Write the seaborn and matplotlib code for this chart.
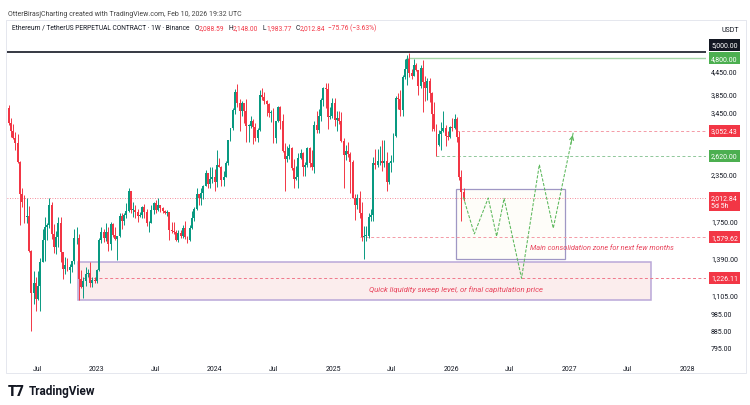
import numpy as np
import pandas as pd
import matplotlib
matplotlib.use("Agg")
import matplotlib.pyplot as plt
import matplotlib.dates as mdates
import matplotlib.transforms as mtransforms
from matplotlib.patches import Rectangle
from matplotlib.ticker import NullLocator, FixedLocator, FixedFormatter
import seaborn as sns

# ---------------- data ----------------
first_week = "2022-04-04"
opens = [
    3520, 3210, 3060, 2920, 2830, 2520, 2060, 1970, 1790, 1800, 1450, 1120, 1190, 1075, 1165, 1355, 1550, 1685, 1700, 1935,
    1610, 1490, 1580, 1720, 1440, 1295, 1330, 1290, 1310, 1365, 1570, 1570, 1220, 1160, 1200, 1260, 1265, 1185, 1210,
    1200, 1290, 1550, 1630, 1570, 1630, 1515, 1710, 1600, 1565, 1590, 1800, 1750, 1810, 1860, 2100, 1870, 1870, 1850, 1800,
    1810, 1910, 1850, 1720, 1720, 1870, 1950, 1870, 1930, 1890, 1860, 1830, 1850, 1650, 1640, 1630, 1550, 1620, 1590, 1670,
    1580, 1550, 1670, 1780, 1880, 2060, 2010, 2080, 2170, 2350, 2200, 2270,
    2290, 2220, 2470, 2450, 2260, 2290, 2500, 2880, 3110, 3490, 3900, 3640, 3450, 3640, 3450, 3150, 3150, 3260, 3140, 2930,
    3070, 3830, 3780, 3680, 3620, 3420, 3430, 2930, 3250, 3540, 3250, 2690, 2560, 2610, 2750, 2430, 2270, 2300, 2580, 2660,
    2440, 2470, 2750, 2500, 2450, 3180, 3080, 3360, 3700, 3990, 3960, 3330, 3360,
    3630, 3270, 3310, 3250, 2870, 2630, 2690, 2650, 2520, 2020, 1930, 2010, 1830, 1580, 1590, 1590, 1790, 1810, 2510, 2480,
    2530, 2530, 2510, 2540, 2230, 2500, 2540, 2970, 3760, 3720, 3490, 4260, 4480, 4780, 4390, 4310, 4610, 4450, 4030, 4510,
    4150, 3990, 4160, 3880, 3400, 3090, 2800, 3000, 3060, 3110, 2970, 2950,
    3140, 3120, 3300, 2950, 2300, 2088.59,
]
highs = [
    3580, 3310, 3190, 3030, 3000, 2530, 2150, 2050, 2010, 1920, 1460, 1280, 1230, 1280, 1390, 1660, 1790, 1720, 2020, 1960,
    1710, 1640, 1790, 1790, 1440, 1400, 1390, 1340, 1340, 1660, 1680, 1610, 1290, 1230, 1310, 1300, 1350, 1230, 1230,
    1300, 1570, 1680, 1660, 1720, 1680, 1740, 1720, 1680, 1580, 1840, 1830, 1830, 1950, 2140, 2110, 1960, 1930, 1880, 1850,
    1920, 1940, 1880, 1750, 1930, 1960, 1990, 2020, 1930, 1900, 1870, 1870, 1850, 1740, 1740, 1650, 1650, 1650, 1700, 1750,
    1590, 1700, 1860, 1910, 2140, 2060, 2140, 2180, 2400, 2350, 2450, 2440,
    2420, 2720, 2590, 2460, 2390, 2540, 2890, 3120, 3520, 3970, 4090, 3730, 3680, 3640, 3730, 3200, 3360, 3290, 3220, 3120,
    3940, 3980, 3890, 3710, 3630, 3490, 3520, 3260, 3560, 3560, 3400, 2840, 2780, 2820, 2760, 2560, 2460, 2670, 2730, 2680,
    2520, 2760, 2770, 2720, 3250, 3450, 3500, 3740, 4010, 4110, 4110, 3550, 3740,
    3750, 3460, 3450, 3430, 2930, 2800, 2850, 2680, 2550, 2060, 2070, 2100, 1960, 1690, 1690, 1830, 1880, 2600, 2740, 2730,
    2790, 2880, 2880, 2680, 2520, 2640, 3020, 3800, 3860, 3940, 4330, 4790, 4890, 4960, 4480, 4770, 4650, 4460, 4590, 4750,
    4300, 4250, 4250, 3900, 3660, 3200, 3070, 3240, 3450, 3180, 3060, 3150,
    3310, 3400, 3330, 3050, 2400, 2148.00,
]
lows = [
    3170, 2950, 2900, 2710, 2500, 1700, 1910, 1720, 1730, 1440, 880, 1040, 1000, 1070, 1000, 1350, 1360, 1550, 1670, 1560,
    1430, 1420, 1490, 1350, 1220, 1260, 1280, 1190, 1270, 1340, 1510, 1070, 1150, 1080, 1170, 1230, 1160, 1160, 1190,
    1190, 1280, 1520, 1530, 1540, 1450, 1460, 1580, 1550, 1370, 1580, 1660, 1700, 1780, 1850, 1840, 1790, 1780, 1740, 1790,
    1780, 1780, 1690, 1630, 1720, 1820, 1830, 1860, 1850, 1830, 1820, 1800, 1550, 1620, 1610, 1540, 1530, 1570, 1570, 1560,
    1520, 1540, 1660, 1750, 1870, 1930, 1930, 2000, 2170, 2140, 2150, 2210,
    2110, 2160, 2440, 2170, 2170, 2290, 2480, 2870, 3080, 3400, 3550, 3060, 3360, 3220, 2860, 2860, 3110, 2810, 2870, 2860,
    3050, 3700, 3620, 3360, 3340, 3240, 2830, 2830, 3230, 3090, 2680, 2110, 2520, 2570, 2400, 2150, 2260, 2150, 2560, 2310,
    2310, 2440, 2440, 2400, 2360, 3020, 3010, 3260, 3560, 3520, 3100, 3300, 3320,
    3160, 3050, 3200, 2850, 2150, 2550, 2600, 2080, 2010, 1760, 1880, 1780, 1540, 1380, 1540, 1570, 1750, 1750, 2420, 2440,
    2480, 2380, 2440, 2110, 2200, 2370, 2520, 2940, 3500, 3350, 3360, 4220, 4060, 4270, 4210, 4290, 4440, 3830, 4000, 3440,
    3680, 3700, 3650, 3060, 3050, 2620, 2780, 2720, 3030, 2780, 2890, 2930,
    3060, 3100, 2850, 2250, 1750, 1983.77,
]
closes = [
    3210, 3060, 2920, 2830, 2520, 2060, 1970, 1790, 1800, 1450, 1120, 1190, 1075, 1165, 1355, 1550, 1685, 1700, 1935, 1610,
    1490, 1580, 1720, 1440, 1295, 1330, 1290, 1310, 1365, 1570, 1570, 1220, 1160, 1200, 1260, 1265, 1185, 1210, 1200,
    1290, 1550, 1630, 1570, 1630, 1515, 1710, 1600, 1565, 1590, 1800, 1750, 1810, 1860, 2100, 1870, 1870, 1850, 1800, 1810,
    1910, 1850, 1720, 1720, 1870, 1950, 1870, 1930, 1890, 1860, 1830, 1850, 1650, 1640, 1630, 1550, 1620, 1590, 1670, 1580,
    1550, 1670, 1780, 1880, 2060, 2010, 2080, 2170, 2350, 2200, 2270, 2290,
    2220, 2470, 2450, 2260, 2290, 2500, 2880, 3110, 3490, 3900, 3640, 3450, 3640, 3450, 3150, 3150, 3260, 3140, 2930, 3070,
    3830, 3780, 3680, 3620, 3420, 3430, 2930, 3250, 3540, 3250, 2690, 2560, 2610, 2750, 2430, 2270, 2300, 2580, 2660, 2440,
    2470, 2750, 2500, 2450, 3180, 3080, 3360, 3700, 3990, 3960, 3330, 3360, 3630,
    3270, 3310, 3250, 2870, 2630, 2690, 2650, 2520, 2020, 1930, 2010, 1830, 1580, 1590, 1590, 1790, 1810, 2510, 2480, 2530,
    2530, 2510, 2540, 2230, 2500, 2540, 2970, 3760, 3720, 3490, 4260, 4480, 4780, 4390, 4310, 4610, 4450, 4030, 4510, 4150,
    3990, 4160, 3880, 3400, 3090, 2800, 3000, 3060, 3110, 2970, 2950, 3140,
    3120, 3300, 2950, 2300, 2090, 2012.84,
]

# projection path (green dashed zig-zag)
proj_dates = ["2026-02-08", "2026-03-14", "2026-04-26", "2026-05-22", "2026-06-14",
              "2026-08-07", "2026-10-01", "2026-11-13", "2027-01-14"]
proj_prices = [2025, 1612, 2015, 1588, 2010, 1224, 2479, 1670, 3031]

# zones
consol_dates = ["2026-01-16", "2026-12-19"]
consol_prices = [1380, 2131]
sweep_dates = ["2022-11-04", "2027-09-10"]
sweep_prices = [1071, 1357]

# horizontal levels
level_prices = [5000.00, 4800.00, 3052.43, 2620.00, 2012.84, 1579.62, 1226.11]
level_starts = [None, "2025-08-15", "2026-01-16", "2025-11-15", None, "2025-03-25", "2022-11-20"]

axis_ticks = [795, 885, 985, 1105, 1390, 1750, 2350, 3450, 3850, 4450]
x_tick_dates = ["2022-07-01", "2023-01-01", "2023-07-01", "2024-01-01", "2024-07-01", "2025-01-01",
                "2025-07-01", "2026-01-01", "2026-07-01", "2027-01-01", "2027-07-01", "2028-01-01"]
x_tick_labels = ["Jul", "2023", "Jul", "2024", "Jul", "2025", "Jul", "2026", "Jul", "2027", "Jul", "2028"]

# ---------------- style ----------------
sns.set_theme(style="white")
plt.rcParams["font.family"] = ["Roboto", "DejaVu Sans"]

UP = "#089981"
DOWN = "#f23645"
TXT = "#131722"

W, H = 750, 406
fig = plt.figure(figsize=(7.5, 4.06), dpi=100)
fig.patch.set_facecolor("white")
ax_l, ax_r, ax_t, ax_b = 7, 706, 38, 362
ax = fig.add_axes([ax_l / W, 1 - ax_b / H, (ax_r - ax_l) / W, (ax_b - ax_t) / H])
ax.set_facecolor("white")

dates = pd.date_range(first_week, periods=len(opens), freq="7D")
o = np.array(opens, float); h = np.array(highs, float)
l = np.array(lows, float); c = np.array(closes, float)
cols = np.where(c >= o, UP, DOWN)

ax.set_yscale("log")

# zones (behind candles)
sd = mdates.date2num(pd.to_datetime(sweep_dates))
ax.add_patch(Rectangle((sd[0], sweep_prices[0]), sd[1] - sd[0], sweep_prices[1] - sweep_prices[0],
                       facecolor="#fbeded", edgecolor="#b9a7d8", lw=1.1, zorder=1))
cd = mdates.date2num(pd.to_datetime(consol_dates))
ax.add_patch(Rectangle((cd[0], consol_prices[0]), cd[1] - cd[0], consol_prices[1] - consol_prices[0],
                       facecolor="#fefdf9", edgecolor="#9f97c4", lw=0.9, zorder=1))

dn = mdates.date2num(dates)
ax.vlines(dn, l, h, colors=cols, lw=0.7, zorder=3)
body_lo = np.minimum(o, c)
body_h = np.maximum(np.abs(c - o), body_lo * 0.004)
ax.bar(dn, body_h, bottom=body_lo, width=6.0, color=cols, edgecolor="none", zorder=4)

xmin = mdates.date2num(pd.Timestamp("2023-01-01")) + (ax_l - 96.6) / 0.3234
xmax = mdates.date2num(pd.Timestamp("2023-01-01")) + (ax_r - 96.6) / 0.3234
ax.set_xlim(xmin, xmax)
ax.set_ylim(732, 5478)

# levels
level_styles = [
    dict(color="#131722", lw=1.2, ls="-"),
    dict(color="#a5d6a7", lw=1.0, ls="-"),
    dict(color="#f49aa6", lw=0.7, ls=(0, (3, 2.5))),
    dict(color="#8fc79a", lw=0.7, ls=(0, (3, 2.5))),
    dict(color="#f26a7b", lw=0.6, ls=(0, (1, 2))),
    dict(color="#f49aa6", lw=0.7, ls=(0, (3, 2.5))),
    dict(color="#f0788a", lw=0.7, ls=(0, (3, 2.5))),
]
for p, s, st in zip(level_prices, level_starts, level_styles):
    x0 = xmin if s is None else mdates.date2num(pd.Timestamp(s))
    ax.hlines(p, x0, xmax, zorder=2, **st)

# projection zig-zag
pdates = pd.to_datetime(proj_dates)
proj_df = pd.DataFrame({"date": pdates, "price": proj_prices})
sns.lineplot(data=proj_df, x="date", y="price", ax=ax, sort=False, estimator=None,
             color="#5cb85c", lw=0.75, linestyle=(0, (3, 1.5)), zorder=5)
pn = mdates.date2num(pdates)
tail_x = pn[-2] + 0.85 * (pn[-1] - pn[-2])
tail_y = np.exp(np.log(proj_prices[-2]) + 0.85 * (np.log(proj_prices[-1]) - np.log(proj_prices[-2])))
ax.annotate("", xy=(pn[-1], proj_prices[-1]), xytext=(tail_x, tail_y),
            arrowprops=dict(arrowstyle="->", color="#5cb85c", lw=0.8, mutation_scale=7), zorder=6)

# annotation texts
ANN = "#e8425a"
ax.text(mdates.date2num(pd.Timestamp("2026-09-02")), 1486, "Main consolidation zone for next few months",
        fontsize=5.3, style="italic", color=ANN, ha="left", va="center", zorder=6)
ax.text(mdates.date2num(pd.Timestamp("2026-01-15")), 1150,
        "Quick liquidity sweep level, or final capitulation price",
        fontsize=5.6, style="italic", color=ANN, ha="center", va="center", zorder=6)

# axes
for sp in ax.spines.values():
    sp.set_visible(False)
ax.yaxis.tick_right()
ax.yaxis.set_major_locator(FixedLocator(axis_ticks))
ax.yaxis.set_major_formatter(FixedFormatter([f"{v:,.2f}" for v in axis_ticks]))
ax.yaxis.set_minor_locator(NullLocator())
ax.tick_params(axis="y", length=0, pad=3.6, labelsize=5, labelcolor=TXT)
xt = mdates.date2num(pd.to_datetime(x_tick_dates))
ax.set_xticks(xt)
ax.set_xticklabels(x_tick_labels)
ax.xaxis.set_minor_locator(NullLocator())
ax.tick_params(axis="x", length=0, pad=3, labelsize=5, labelcolor=TXT)
ax.grid(False)
ax.set_xlabel("")
ax.set_ylabel("")

# price-scale badges
blend = mtransforms.blended_transform_factory(ax.transAxes, ax.transData)
xf = (711 - ax_l) / (ax_r - ax_l)
def frac_y(px):
    return (ax_b - px) / (ax_b - ax_t)
badges = [
    ("5,000.00", "#131722", frac_y(45.7), True),
    ("4,800.00", "#4caf50", 4800.00, False),
    ("3,052.43", DOWN, 3052.43, False),
    ("2,620.00", "#4caf50", 2620.00, False),
    ("1,579.62", DOWN, 1579.62, False),
    ("1,226.11", DOWN, 1226.11, False),
]
for txt, colr, yv, in_axes in badges:
    tr = ax.transAxes if in_axes else blend
    ax.text(xf, yv, txt, transform=tr, fontsize=5, color="white", ha="left", va="center",
            bbox=dict(boxstyle="square,pad=0.35", fc=colr, ec="none"), clip_on=False, zorder=10)
ax.text(xf, frac_y(202.5), "2,012.84\n5d 5h", transform=ax.transAxes, fontsize=5, color="white",
        ha="left", va="center", linespacing=1.15,
        bbox=dict(boxstyle="square,pad=0.35", fc=DOWN, ec="none"), clip_on=False, zorder=10)

# header & footer
def ft(xp, yp, s, **kw):
    return fig.text(xp / W, 1 - yp / H, s, va="center", **kw)
ft(8, 14, "OtterBirasjCharting created with TradingView.com, Feb 10, 2026 19:32 UTC", fontsize=5, color="#444444")

renderer = fig.canvas.get_renderer()
pieces = [("Ethereum / TetherUS PERPETUAL CONTRACT \u00b7 1W \u00b7 Binance", TXT, 5),
          ("O", TXT, 0), ("2,088.59", DOWN, 4), ("H", TXT, 0), ("2,148.00", DOWN, 4),
          ("L", TXT, 0), ("1,983.77", DOWN, 4), ("C", TXT, 0), ("2,012.84", DOWN, 3),
          ("\u221275.76 (\u22123.63%)", DOWN, 0)]
xcur = 12
for s, colr, gap in pieces:
    t = ft(xcur, 28.5, s, fontsize=4.8, color=colr)
    bb = t.get_window_extent(renderer)
    xcur = bb.x1 + gap

ft(722, 30, "USDT", fontsize=5, color=TXT)
ft(8, 392, "T7", fontsize=10, color=TXT, fontweight="heavy")
ft(29, 392, "TradingView", fontsize=8.5, color=TXT, fontweight="bold")

fig.add_artist(Rectangle((6 / W, 1 - 374 / H), 740 / W, (374 - 21) / H, transform=fig.transFigure,
                         fill=False, ec="#e0e3eb", lw=0.6))

fig.savefig("out.png", dpi=100, facecolor="white")
